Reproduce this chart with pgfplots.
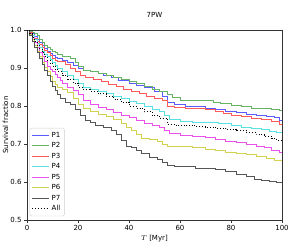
\documentclass[border=0pt]{standalone}
\usepackage{fontspec}
\setmainfont{DejaVu Sans}
\usepackage{pgfplots}
\pgfplotsset{compat=1.18}
\definecolor{cPa}{RGB}{90,90,255}
\definecolor{cPb}{RGB}{102,179,102}
\definecolor{cPc}{RGB}{255,90,90}
\definecolor{cPd}{RGB}{90,225,225}
\definecolor{cPe}{RGB}{235,80,235}
\definecolor{cPf}{RGB}{210,210,80}
\definecolor{cPg}{RGB}{85,85,85}
\pgfplotsset{st/.style={const plot, line width=0.8pt, mark=none, forget plot},
  lg/.style={legend image code/.code={\draw[draw=#1, line width=0.9pt] (0cm,0cm) -- (0.6cm,0cm);}}}
\begin{document}
\fontsize{7}{8}\selectfont
\begin{tikzpicture}
\useasboundingbox (0,0) rectangle (293pt,244pt);
\begin{axis}[
  at={(27pt,24pt)}, anchor=south west,
  width=255pt, height=190pt, scale only axis,
  xmin=0, xmax=100, ymin=0.5, ymax=1.0,
  xtick={0,20,40,60,80,100},
  ytick={0.5,0.6,0.7,0.8,0.9,1.0},
  yticklabel style={/pgf/number format/fixed,/pgf/number format/fixed zerofill,/pgf/number format/precision=1},
  /pgf/number format/assume math mode=true,
  tick align=outside, tick pos=left,
  major tick length=3pt,
  axis line style={black!80, line width=0.5pt},
  tick style={black!80, line width=0.5pt},
  ticklabel style={font=\fontsize{7}{8}\selectfont},
  title={7PW}, title style={at={(axis description cs:0.5,1.032)}, anchor=base, font=\fontsize{7}{8}\selectfont},
  xlabel={$T$ [Myr]}, ylabel={Survival fraction},
  xlabel style={at={(axis description cs:0.5,-0.108)}, anchor=base, font=\fontsize{7}{8}\selectfont},
  ylabel style={at={(axis description cs:-0.074,0.5)}, anchor=base, font=\fontsize{7}{8}\selectfont},
  legend style={at={(0.01,0.02)}, anchor=south west, draw=black!20, rounded corners=1.5pt, font=\fontsize{7}{8}\selectfont, row sep=0.3pt, inner sep=2pt},
  legend cell align=left,
]
\addlegendimage{lg=cPa}\addlegendentry{P1}
\addlegendimage{lg=cPb}\addlegendentry{P2}
\addlegendimage{lg=cPc}\addlegendentry{P3}
\addlegendimage{lg=cPd}\addlegendentry{P4}
\addlegendimage{lg=cPe}\addlegendentry{P5}
\addlegendimage{lg=cPf}\addlegendentry{P6}
\addlegendimage{lg=cPg}\addlegendentry{P7}
\addlegendimage{legend image code/.code={\draw[draw=black, line width=0.9pt, dotted] (0cm,0cm) -- (0.6cm,0cm);}}\addlegendentry{All}
\addplot[color=cPa, st] coordinates {(0,1.0)(1,0.995)(2,0.99)(3,0.982)(4,0.975)(5,0.968)(6,0.96)(7,0.952)(8,0.945)(9,0.938)(10,0.932)(11,0.928)(12,0.925)(14,0.92)(16,0.915)(18,0.907)(20,0.90)(22,0.895)(25,0.89)(28,0.885)(30,0.88)(33,0.875)(36,0.868)(40,0.86)(43,0.855)(46,0.848)(50,0.838)(53,0.825)(55,0.81)(58,0.805)(62,0.80)(66,0.798)(70,0.795)(74,0.79)(78,0.785)(82,0.782)(86,0.778)(90,0.775)(94,0.773)(97,0.77)(99,0.762)(100,0.76)};
\addplot[color=cPb, st] coordinates {(0,1.0)(1,0.997)(2,0.993)(3,0.99)(4,0.985)(5,0.975)(6,0.967)(7,0.96)(8,0.955)(9,0.95)(10,0.945)(11,0.94)(12,0.935)(14,0.93)(17,0.925)(19,0.915)(20,0.905)(22,0.895)(25,0.89)(28,0.885)(31,0.88)(34,0.875)(37,0.87)(40,0.865)(43,0.86)(46,0.852)(49,0.845)(52,0.838)(55,0.83)(57,0.822)(60,0.815)(65,0.815)(70,0.815)(73,0.81)(76,0.806)(80,0.802)(84,0.80)(88,0.795)(92,0.793)(96,0.792)(99,0.789)(100,0.788)};
\addplot[color=cPc, st] coordinates {(0,1.0)(1,0.993)(2,0.985)(3,0.978)(4,0.97)(5,0.962)(6,0.955)(7,0.947)(8,0.94)(9,0.932)(10,0.925)(11,0.92)(12,0.917)(15,0.91)(17,0.9)(19,0.89)(21,0.88)(23,0.875)(26,0.87)(29,0.865)(32,0.858)(35,0.852)(38,0.845)(41,0.838)(44,0.832)(47,0.825)(50,0.82)(53,0.815)(55,0.80)(58,0.797)(62,0.795)(66,0.793)(70,0.79)(74,0.787)(77,0.78)(80,0.775)(84,0.772)(88,0.768)(92,0.765)(96,0.76)(99,0.752)(100,0.752)};
\addplot[color=cPd, st] coordinates {(0,1.0)(1,0.992)(2,0.985)(3,0.975)(4,0.965)(5,0.955)(6,0.945)(7,0.937)(8,0.93)(9,0.922)(10,0.915)(11,0.907)(12,0.9)(14,0.89)(16,0.88)(18,0.87)(20,0.86)(22,0.85)(25,0.845)(28,0.838)(31,0.832)(34,0.826)(37,0.82)(40,0.812)(43,0.806)(46,0.80)(49,0.792)(52,0.785)(54,0.775)(56,0.765)(60,0.76)(65,0.758)(70,0.757)(75,0.755)(80,0.75)(84,0.745)(88,0.742)(92,0.738)(95,0.733)(98,0.73)(100,0.722)};
\addplot[color=cPe, st] coordinates {(0,1.0)(1,0.99)(2,0.98)(3,0.967)(4,0.955)(5,0.942)(6,0.93)(7,0.917)(8,0.905)(9,0.897)(10,0.89)(11,0.882)(12,0.875)(13,0.867)(14,0.86)(16,0.85)(18,0.84)(20,0.83)(22,0.815)(25,0.805)(28,0.797)(31,0.79)(34,0.783)(37,0.776)(40,0.77)(43,0.763)(46,0.755)(49,0.75)(52,0.745)(54,0.735)(56,0.728)(60,0.723)(65,0.72)(70,0.717)(74,0.712)(78,0.708)(82,0.704)(86,0.70)(90,0.695)(93,0.69)(96,0.683)(99,0.677)(100,0.675)};
\addplot[color=cPf, st] coordinates {(0,1.0)(1,0.988)(2,0.975)(3,0.96)(4,0.945)(5,0.93)(6,0.915)(7,0.902)(8,0.89)(9,0.877)(10,0.865)(11,0.857)(12,0.85)(14,0.845)(16,0.835)(18,0.82)(20,0.805)(22,0.795)(25,0.785)(28,0.778)(31,0.772)(34,0.765)(37,0.755)(39,0.745)(41,0.735)(43,0.725)(45,0.716)(48,0.712)(51,0.708)(53,0.70)(55,0.695)(60,0.693)(65,0.69)(70,0.687)(74,0.683)(78,0.678)(82,0.675)(86,0.672)(90,0.667)(94,0.662)(97,0.658)(100,0.657)};
\addplot[color=cPg, st] coordinates {(0,1.0)(1,0.985)(2,0.97)(3,0.955)(4,0.94)(5,0.925)(6,0.91)(7,0.895)(8,0.88)(9,0.865)(10,0.852)(11,0.84)(12,0.83)(13,0.82)(15,0.81)(17,0.805)(19,0.79)(21,0.775)(23,0.762)(25,0.757)(27,0.75)(30,0.745)(33,0.735)(35,0.725)(37,0.71)(39,0.695)(41,0.69)(43,0.683)(45,0.675)(48,0.665)(51,0.66)(53,0.652)(55,0.643)(58,0.641)(62,0.64)(66,0.637)(70,0.635)(74,0.632)(78,0.627)(82,0.62)(86,0.615)(89,0.608)(92,0.605)(95,0.602)(98,0.6)(100,0.598)};
\addplot[color=black, dotted, st] coordinates {(0,1.0)(1,0.99)(2,0.98)(3,0.97)(4,0.96)(5,0.95)(6,0.94)(7,0.93)(8,0.92)(9,0.912)(10,0.905)(11,0.897)(12,0.89)(14,0.88)(16,0.87)(18,0.86)(20,0.85)(22,0.845)(25,0.838)(28,0.832)(31,0.825)(34,0.818)(37,0.81)(40,0.80)(43,0.795)(46,0.785)(49,0.775)(52,0.768)(55,0.752)(58,0.75)(62,0.748)(66,0.746)(70,0.745)(74,0.742)(78,0.738)(82,0.735)(86,0.73)(90,0.725)(93,0.72)(96,0.715)(98,0.71)(100,0.707)};
\end{axis}
\end{tikzpicture}
\end{document}
